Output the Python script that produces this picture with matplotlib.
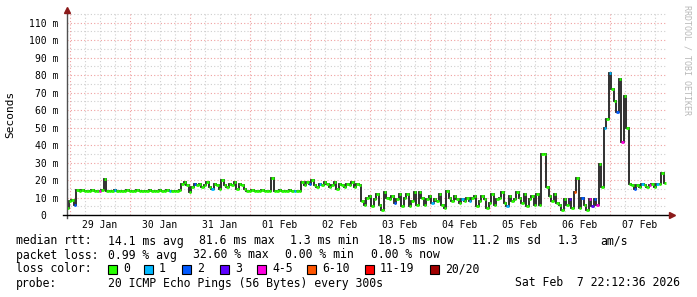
import matplotlib
matplotlib.use("Agg")
import matplotlib.pyplot as plt
from matplotlib.patches import Rectangle
import numpy as np

plt.rcParams['font.family'] = ['DejaVu Sans Mono']

W, H = 697, 297

# ---- data: hourly median RTT (ms), hour 0 = 29 Jan 00:00 ----
start_hour = -1
rtt_29jan = [4, 8, 8.5, 6, 14.2, 14, 14.1, 14, 13.9, 14, 14.2, 14, 13.8, 14, 14.1,
             20.5, 14, 14, 13.9, 14.2, 14, 14, 13.8, 14, 14.1]
rtt_30jan = [14, 13.9, 14, 14.1, 14, 13.8, 14, 14, 14.2, 14, 13.9, 14, 14.1, 14,
             14, 14.2, 14, 14, 14, 14, 14.2, 18, 19, 17]
rtt_31jan = [13, 16, 18, 17, 18, 16, 17, 19, 16, 15, 18, 17, 15, 20, 17, 16, 18,
             17, 19, 15, 18, 17, 15, 14]
rtt_01feb = [14, 14.1, 13.9, 14, 14, 14.2, 14, 13.8, 14, 21, 14, 14, 14.1, 14, 13.9,
             14, 14.2, 14, 14, 14, 14, 19, 17, 19]
rtt_02feb = [18, 20, 17, 16, 18, 17, 19, 18, 16, 17, 19, 15, 18, 17, 16, 18, 17,
             19, 16, 18, 17, 8, 6, 10]
rtt_03feb = [11, 5, 9, 12, 6, 3, 13, 10, 9, 11, 7, 9, 12, 5, 10, 12, 5, 8, 13, 6,
             13, 10, 6, 9]
rtt_04feb = [11, 7, 9, 8, 12, 6, 4, 14, 10, 8, 11, 9, 7, 9, 8, 10, 8, 10, 11, 5,
             8, 11, 9, 4]
rtt_05feb = [7, 12, 6, 9, 10, 13, 7, 5, 11, 8, 9, 13, 10, 7, 12, 5, 9, 11, 6, 12,
             6, 35, 35, 16]
rtt_06feb = [11, 8, 12, 7, 6, 3, 9, 6, 9, 4, 13, 21, 4, 10, 6, 3, 9, 5, 9, 6,
             29, 16, 50, 55]
rtt_07feb = [81, 72, 65, 59, 78, 42, 68, 50, 18, 17, 15, 17, 16, 18, 17, 16, 17,
             18, 16, 18, 18, 24, 18.5]

rtt = np.array(rtt_29jan + rtt_30jan + rtt_31jan + rtt_01feb + rtt_02feb +
               rtt_03feb + rtt_04feb + rtt_05feb + rtt_06feb + rtt_07feb, float)
hours = np.arange(len(rtt)) + start_hour

# loss class per sample (default 0 = no loss)
loss_hours = [2, 12, 18, 40, 50, 57, 90, 96, 100, 130, 145, 157, 160, 175,
              200, 202, 205, 208, 209, 210, 211, 214, 216, 219, 221, 226, 229, 232, 235]
loss_class = [2, 4, 1, 1, 2, 1, 1, 2, 1, 2, 1, 1, 1, 1,
              3, 5, 2, 4, 3, 2, 4, 1, 1, 2, 4, 2, 1, 4, 1]

loss_labels = ["0", "1", "2", "3", "4-5", "6-10", "11-19", "20/20"]
loss_colors = ["#26ff00", "#00b8ff", "#0059ff", "#5e00ff", "#ff00e0",
               "#ff5500", "#ff0000", "#a00000"]

day_labels = ["29 Jan", "30 Jan", "31 Jan", "01 Feb", "02 Feb",
              "03 Feb", "04 Feb", "05 Feb", "06 Feb", "07 Feb"]
y_ticks = [0, 10, 20, 30, 40, 50, 60, 70, 80, 90, 100, 110]

# ---- figure ----
fig = plt.figure(figsize=(W / 100, H / 100), dpi=100)
fig.patch.set_facecolor("white")

x0, x1, ytop, ybot = 67, 667, 13, 215
ax = fig.add_axes([x0 / W, (H - ybot) / H, (x1 - x0) / W, (ybot - ytop) / H])
ax.set_facecolor("white")
px_per_hour = 2.5
ax.set_xlim(-1.2, -1.2 + (x1 - x0) / px_per_hour)
ax.set_ylim(0, (ybot - ytop) / 1.749)

for s in ax.spines.values():
    s.set_visible(False)

# grid
minor_col = "#cfcfcf"
major_col = "#f0a0a0"
for h in np.arange(0, 240, 6):
    if h % 24 != 0:
        ax.axvline(h, color=minor_col, lw=0.8, ls=(0, (1, 2)), zorder=0)
for h in np.arange(0, 240, 24):
    ax.axvline(h, color=major_col, lw=0.8, ls=(0, (1, 2)), zorder=0.5)
for v in np.arange(5, 116, 10):
    ax.axhline(v, color=minor_col, lw=0.8, ls=(0, (1, 2)), zorder=0)
for v in y_ticks[1:]:
    ax.axhline(v, color=major_col, lw=0.8, ls=(0, (1, 2)), zorder=0.5)

# data
ax.plot(hours, rtt, drawstyle="steps-mid", color="#202020", lw=1.3, zorder=2,
        solid_joinstyle="miter")
cls = np.zeros(len(rtt), int)
for hh, c in zip(loss_hours, loss_class):
    cls[hh - start_hour] = c
cols = [loss_colors[c] for c in cls]
ax.hlines(rtt, hours - 0.5, hours + 0.5, colors=cols, lw=2.0, zorder=3)

# ticks
ax.set_xticks([])
ax.set_yticks(y_ticks)
ax.set_yticklabels([("%d m" % v) if v else "0  " for v in y_ticks], fontsize=7)
ax.tick_params(axis="y", length=0, pad=6, colors="black")

for i, lab in enumerate(day_labels):
    ax.text(12 + 24 * i, -10 / (ybot - ytop), lab, transform=ax.get_xaxis_transform(),
            ha="center", va="center", fontsize=7)

# axes lines + arrows
ax.plot([0, 0], [-0.015, 1.01], transform=ax.transAxes, color="#505050", lw=1,
        clip_on=False, zorder=4)
ax.plot([-0.006, 1.006], [0, 0], transform=ax.transAxes, color="black", lw=1,
        clip_on=False, zorder=4)
ax.plot([0], [1.015], transform=ax.transAxes, marker="^", ms=4.5, color="#8b1a1a",
        clip_on=False, zorder=5)
ax.plot([1.009], [0], transform=ax.transAxes, marker=">", ms=4.5, color="#8b1a1a",
        clip_on=False, zorder=5)

fig.text(10 / W, 1 - 114 / H, "Seconds", rotation=90, ha="center", va="center",
         fontsize=8)
fig.text(687 / W, 1 - 5 / H, "RRDTOOL / TOBI OETIKER", rotation=270, ha="center",
         va="top", fontsize=6, color="#b8b8b8")

# legend text
def ft(x, y, s, ha="left"):
    fig.text(x / W, 1 - y / H, s, ha=ha, va="center", fontsize=8.3)

y1, y2, y3, y4 = 241, 255, 269, 283
ft(16, y1, "median rtt:")
ft(108, y1, "14.1 ms avg")
ft(199, y1, "81.6 ms max")
ft(290, y1, "1.3 ms min")
ft(378, y1, "18.5 ms now")
ft(472, y1, "11.2 ms sd")
ft(558, y1, "1.3")
ft(600, y1, "am/s")

ft(16, y2, "packet loss:")
ft(108, y2, "0.99 % avg")
ft(193, y2, "32.60 % max")
ft(285, y2, "0.00 % min")
ft(371, y2, "0.00 % now")

ft(16, y3, "loss color:")
box_x = [108, 144, 182, 220, 257, 307, 365, 430]
for bx, lab, col in zip(box_x, loss_labels, loss_colors):
    fig.patches.append(Rectangle((bx / W, 1 - (y3 + 4.5) / H), 9 / W, 9 / H,
                                 transform=fig.transFigure, facecolor=col,
                                 edgecolor="black", lw=0.8))
    ft(bx + 15, y3, lab)

ft(16, y4, "probe:")
ft(108, y4, "20 ICMP Echo Pings (56 Bytes) every 300s")
ft(680, y4, "Sat Feb  7 22:12:36 2026", ha="right")

fig.savefig("out.png", dpi=100, facecolor="white")
